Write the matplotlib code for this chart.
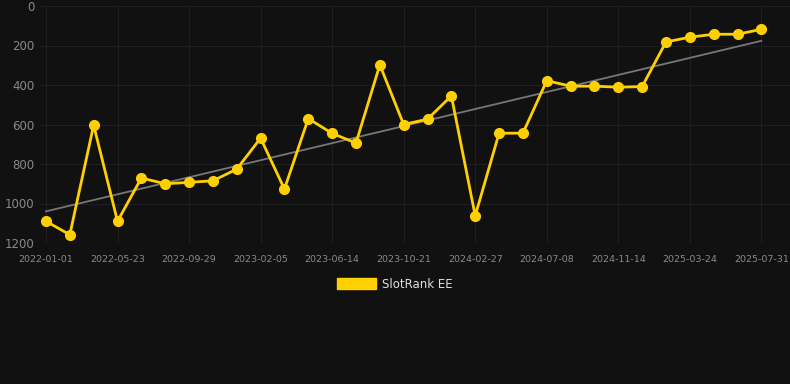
import matplotlib
matplotlib.use("Agg")
import matplotlib.pyplot as plt
import numpy as np

plt.rcParams["font.family"] = ["DejaVu Sans"]

BG = "#111111"
GOLD = "#FFD000"

# every third point carries a date label
tick_labels = [
    "2022-01-01", "2022-05-23", "2022-09-29", "2023-02-05", "2023-06-14",
    "2023-10-21", "2024-02-27", "2024-07-08", "2024-11-14", "2025-03-24",
    "2025-07-31",
]
ranks = [
    1090, 1158, 603, 1090, 871, 900, 893, 885, 826, 669,
    927, 570, 645, 694, 298, 600, 573, 455, 1062, 644,
    644, 378, 406, 406, 411, 408, 182, 158, 143, 143,
    118,
]
y_ticks = [0, 200, 400, 600, 800, 1000, 1200]

x = np.arange(len(ranks))
slope, icpt = np.polyfit(x, ranks, 1)

fig = plt.figure(figsize=(7.9, 3.84), dpi=100, facecolor=BG)
ax = fig.add_axes([40 / 790, 141 / 384, 750 / 790, 237 / 384], facecolor=BG)

ax.plot(x, slope * x + icpt, color="#777777", lw=1.3, zorder=2)
ax.plot(x, ranks, color=GOLD, lw=2.0, marker="o", ms=7, zorder=3,
        label="SlotRank EE")

ax.set_xlim(-0.25, len(ranks) - 1 + 1.2)
ax.set_ylim(1200, 0)
ax.set_yticks(y_ticks)
ax.set_xticks(x[::3])
ax.set_xticklabels(tick_labels)

ax.grid(True, color="#1f1f1f", lw=0.8)
ax.set_axisbelow(True)
for s in ax.spines.values():
    s.set_visible(False)
ax.tick_params(axis="y", length=0, pad=4, labelsize=8.5, labelcolor="#8a8a8a")
ax.tick_params(axis="x", length=0, pad=9, labelsize=6.8, labelcolor="#8a8a8a")

leg = fig.legend(
    handles=[plt.Rectangle((0, 0), 1, 1, color=GOLD)],
    labels=["SlotRank EE"],
    loc="center", bbox_to_anchor=(0.5, 1 - 284 / 384),
    frameon=False, fontsize=8.5, handlelength=3.3, handleheight=1.0,
    handletextpad=0.5, labelcolor="#dddddd",
)

fig.savefig("out.png", dpi=100, facecolor=BG)
